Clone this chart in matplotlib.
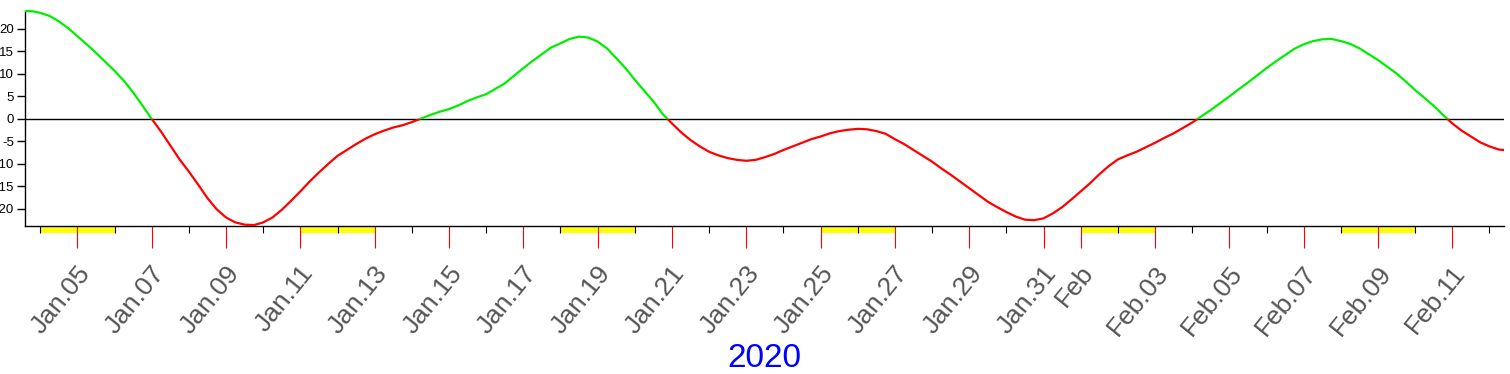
import numpy as np
import pandas as pd
import matplotlib
matplotlib.use("Agg")
import matplotlib.pyplot as plt
import matplotlib.dates as mdates
import matplotlib.transforms as mtransforms
from matplotlib.patches import Rectangle

plt.rcParams['font.family'] = ['Liberation Sans', 'DejaVu Sans']
plt.rcParams['axes.unicode_minus'] = False

# 6-hourly samples, 2020-01-03 12:00 .. 2020-02-12 12:00
times = pd.date_range('2020-01-03 12:00', '2020-02-12 12:00', freq='6h')
values = [
    24.0, 24.0,                  # Jan 3 12h, 18h
    23.6, 22.9, 21.7, 20.2,      # Jan 4
    18.4, 16.6, 14.7, 12.7,      # Jan 5
    10.7, 8.5, 5.9, 3.0,         # Jan 6
    0.0, -2.8, -5.9, -9.0,       # Jan 7
    -11.7, -14.6, -17.6, -20.1,  # Jan 8
    -21.9, -23.0, -23.5, -23.6,  # Jan 9
    -23.0, -21.9, -20.2, -18.2,  # Jan 10
    -16.1, -13.9, -11.9, -10.0,  # Jan 11
    -8.2, -6.9, -5.6, -4.4,      # Jan 12
    -3.4, -2.6, -1.9, -1.4,      # Jan 13
    -0.7, 0.1, 0.9, 1.6,         # Jan 14
    2.2, 3.0, 4.0, 4.8,          # Jan 15
    5.5, 6.7, 7.9, 9.6,          # Jan 16
    11.3, 12.9, 14.4, 15.9,      # Jan 17
    16.8, 17.8, 18.3, 18.1,      # Jan 18
    17.2, 15.7, 13.5, 11.3,      # Jan 19
    8.7, 6.3, 3.9, 1.1,          # Jan 20
    -1.0, -3.0, -4.7, -6.1,      # Jan 21
    -7.3, -8.1, -8.7, -9.1,      # Jan 22
    -9.3, -9.1, -8.5, -7.8,      # Jan 23
    -6.9, -6.1, -5.3, -4.5,      # Jan 24
    -3.9, -3.2, -2.7, -2.4,      # Jan 25
    -2.2, -2.3, -2.7, -3.3,      # Jan 26
    -4.5, -5.6, -6.9, -8.2,      # Jan 27
    -9.5, -11.0, -12.4, -13.9,   # Jan 28
    -15.4, -16.9, -18.4, -19.6,  # Jan 29
    -20.7, -21.7, -22.4, -22.5,  # Jan 30
    -22.1, -21.0, -19.6, -17.9,  # Jan 31
    -16.1, -14.3, -12.3, -10.5,  # Feb 1
    -9.0, -8.1, -7.3, -6.3,      # Feb 2
    -5.3, -4.2, -3.2, -2.0,      # Feb 3
    -0.8, 0.6, 2.0, 3.5,         # Feb 4
    5.0, 6.6, 8.1, 9.7,          # Feb 5
    11.3, 12.8, 14.2, 15.6,      # Feb 6
    16.6, 17.3, 17.7, 17.8,      # Feb 7
    17.3, 16.7, 15.7, 14.4,      # Feb 8
    13.1, 11.6, 10.1, 8.3,       # Feb 9
    6.4, 4.7, 2.9, 0.9,          # Feb 10
    -1.0, -2.6, -3.9, -5.2,      # Feb 11
    -6.1, -6.8, -7.0,            # Feb 12 0h, 6h, 12h
]

weekend_starts = ['2020-01-04', '2020-01-11', '2020-01-18', '2020-01-25',
                  '2020-02-01', '2020-02-08']

major_ticks = (list(pd.date_range('2020-01-05', '2020-01-31', freq='2D'))
               + list(pd.date_range('2020-02-01', '2020-02-11', freq='2D')))
minor_ticks = (list(pd.date_range('2020-01-04', '2020-01-30', freq='2D'))
               + list(pd.date_range('2020-02-02', '2020-02-12', freq='2D')))
tick_labels = ['Feb' if d.day == 1 else d.strftime('%b.%d') for d in major_ticks]

fig = plt.figure(figsize=(15.1, 3.74), dpi=100)
ax = fig.add_axes([25 / 1510, 148 / 374, 1479 / 1510, 215 / 374])

x = mdates.date2num(times)
val = np.array(values)

# green above zero, red below: same line clipped to half-planes
half = mtransforms.blended_transform_factory(ax.transAxes, ax.transData)
for col, y0 in [('#00ee00', 0), ('#ff0000', -100)]:
    ln, = ax.plot(x, val, color=col, lw=1.6, zorder=3)
    clip = Rectangle((0, y0), 1, 100, transform=half)
    ln.set_clip_path(clip)

ax.axhline(0, color='black', lw=1, zorder=2)

# weekend bars under the x axis
xt = ax.get_xaxis_transform()
for d in weekend_starts:
    s = mdates.date2num(pd.Timestamp(d))
    ax.add_patch(Rectangle((s, -7 / 215), 2, 7 / 215, transform=xt,
                           facecolor='#ffff00', edgecolor='none',
                           clip_on=False, zorder=1))

ax.set_xlim(mdates.date2num(pd.Timestamp('2020-01-03 14:10')),
            mdates.date2num(pd.Timestamp('2020-02-12 09:22')))
ax.set_ylim(-23.8, 24.0)

ax.set_yticks(range(-20, 21, 5))
ax.tick_params(axis='y', length=6, width=1, labelsize=9.5, pad=2)

ax.set_xticks(mdates.date2num(major_ticks))
ax.set_xticklabels(tick_labels)
ax.set_xticks(mdates.date2num(minor_ticks), minor=True)
ax.tick_params(axis='x', which='major', color='red', length=16, width=0.8,
               labelsize=19, labelcolor='#555555', pad=18)
ax.tick_params(axis='x', which='minor', color='black', length=5, width=0.8)

offset = mtransforms.ScaledTranslation(14 / 100, 0, fig.dpi_scale_trans)
for lab in ax.get_xticklabels():
    lab.set_rotation(51)
    lab.set_ha('right')
    lab.set_va('baseline')
    lab.set_rotation_mode('anchor')
    lab.set_transform(lab.get_transform() + offset)

for side in ['top', 'right']:
    ax.spines[side].set_visible(False)
ax.spines['left'].set_linewidth(1)
ax.spines['bottom'].set_linewidth(1)

ax.set_xlabel('2020', color='blue', fontsize=24)
ax.xaxis.set_label_coords(0.5, -0.615)
ax.xaxis.label.set_va('center')

fig.savefig('out.png', dpi=100)
